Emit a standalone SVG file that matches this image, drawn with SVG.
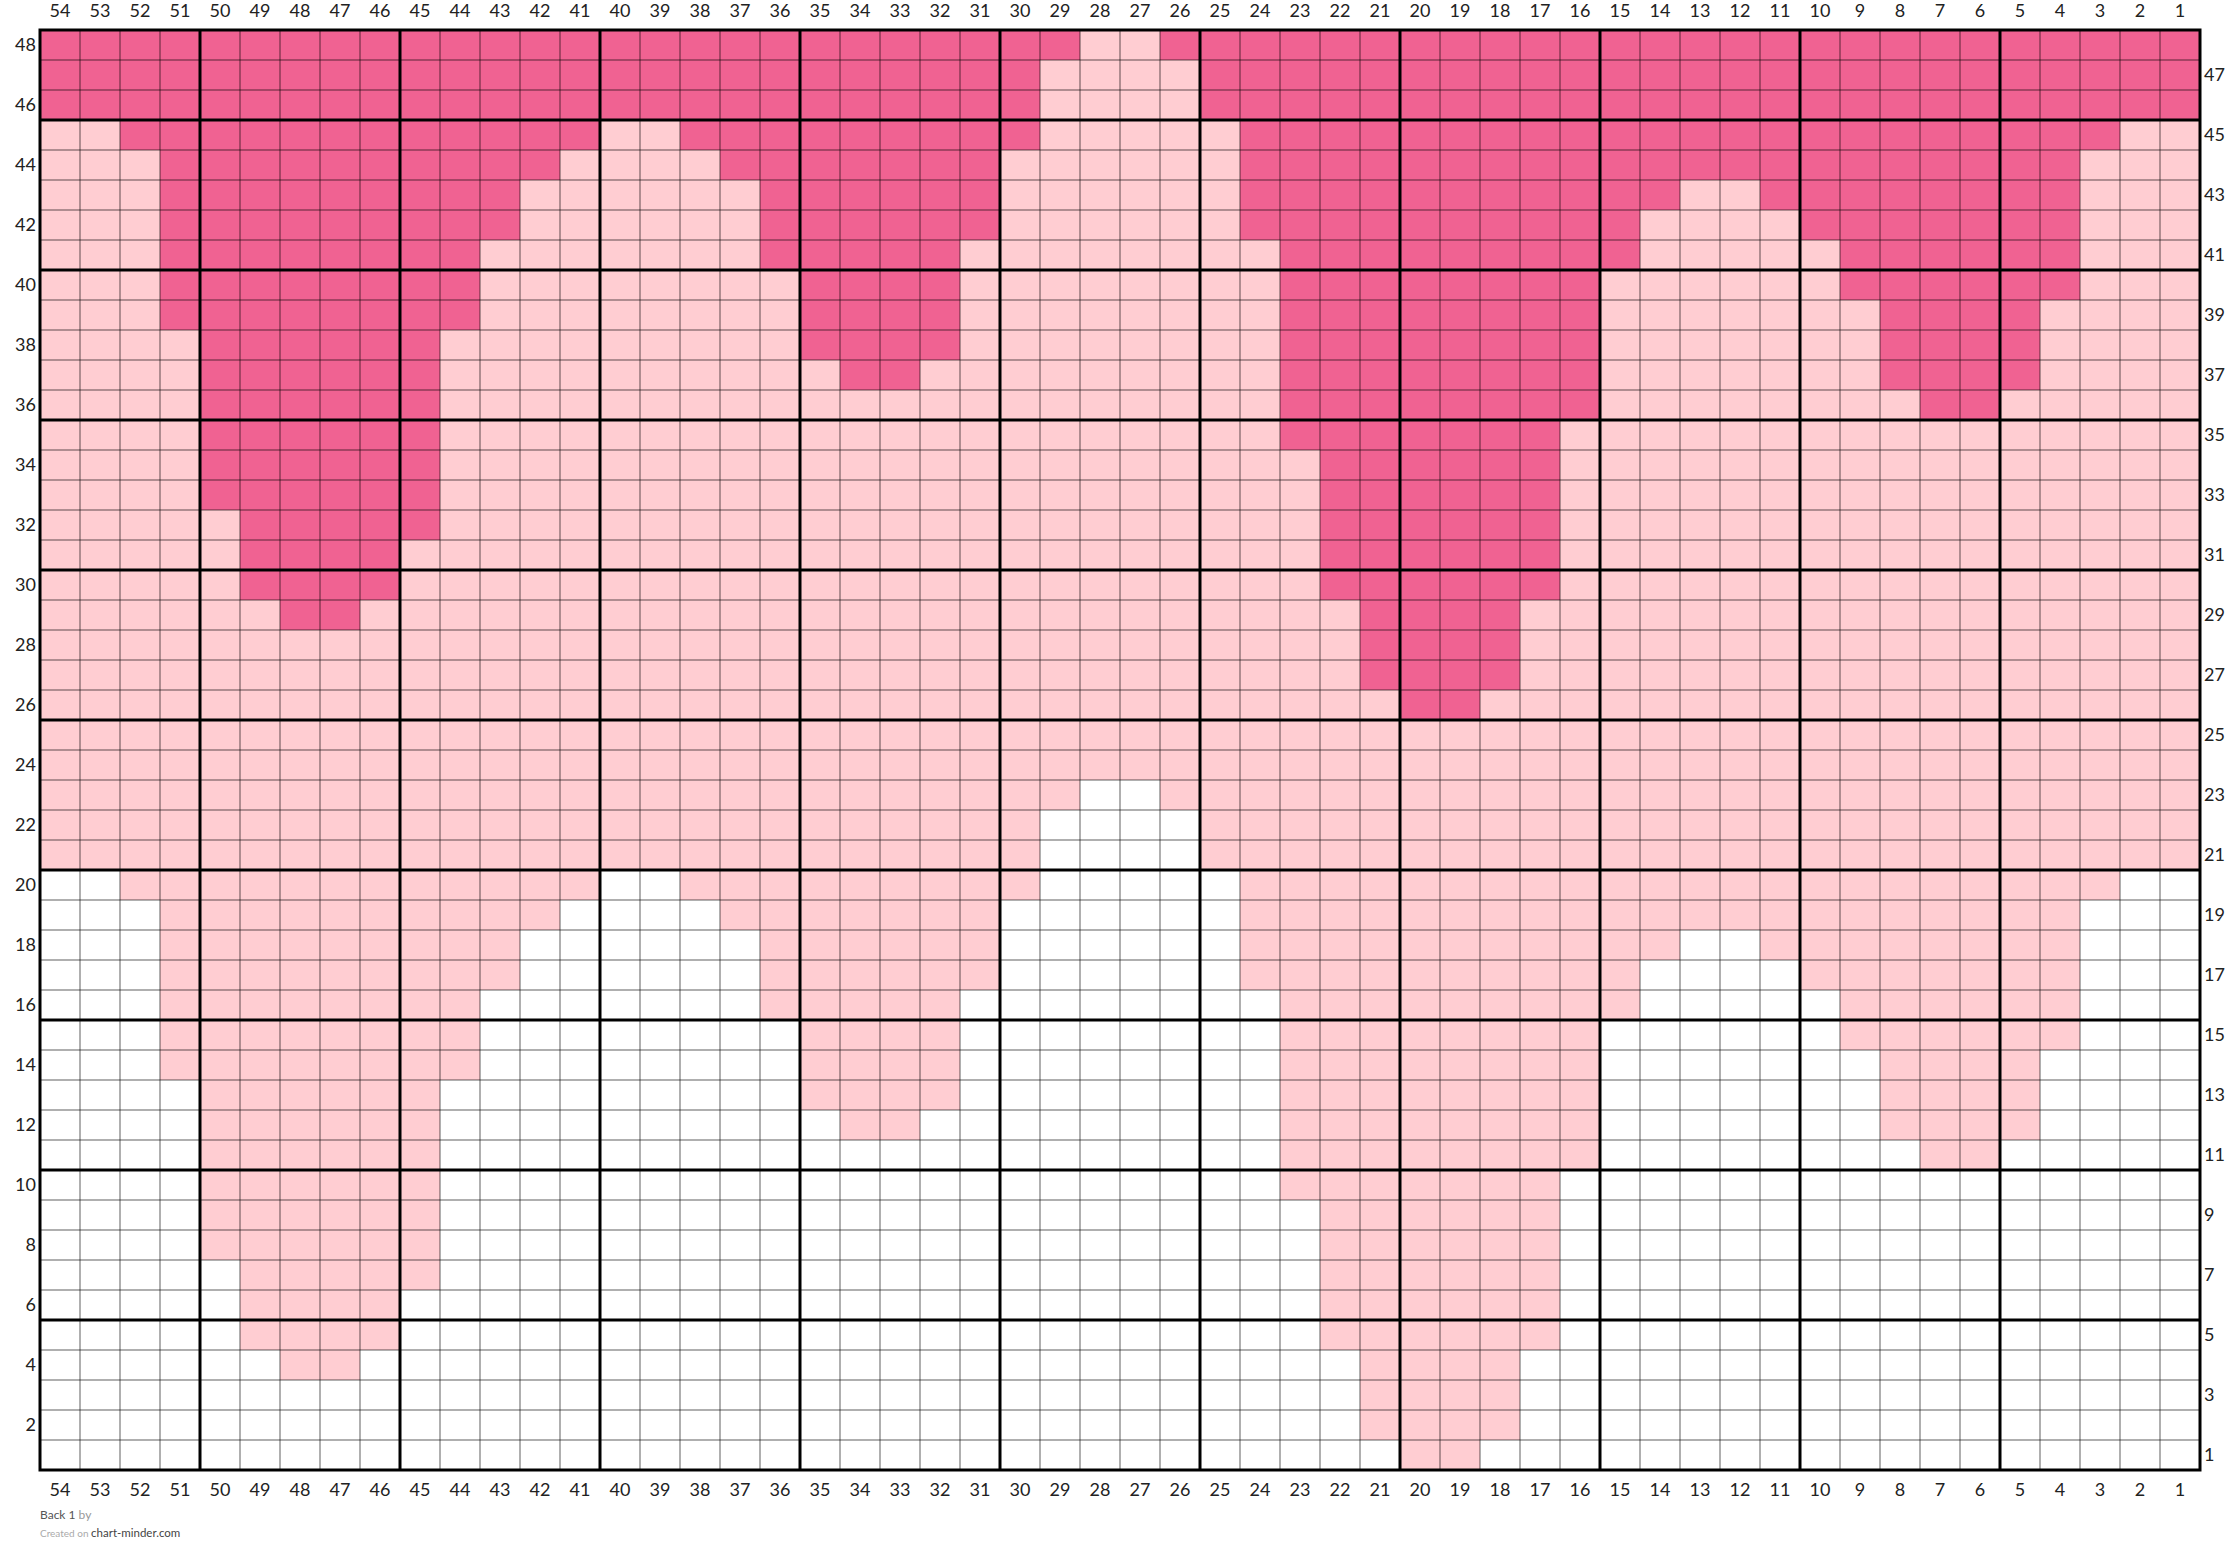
<svg xmlns="http://www.w3.org/2000/svg" width="2240" height="1563" viewBox="0 0 2240 1563">
<style>
.d{fill:#F06292}
.l{fill:#FFCDD2}
.thin{fill:none;stroke:#000;stroke-opacity:0.42;stroke-width:1.5}
.thick{fill:none;stroke:#000;stroke-width:3}
.lab{font-family:Lato,"Liberation Sans",sans-serif;font-size:18px;fill:#222}
.c{text-anchor:middle}
.e{text-anchor:end}
</style>
<rect width="2240" height="1563" fill="#fff"/>
<g id="cells">
<rect class="d" x="40" y="30" width="40" height="90"/><rect class="l" x="40" y="120" width="40" height="750"/>
<rect class="d" x="80" y="30" width="40" height="90"/><rect class="l" x="80" y="120" width="40" height="750"/>
<rect class="d" x="120" y="30" width="40" height="120"/><rect class="l" x="120" y="150" width="40" height="750"/>
<rect class="d" x="160" y="30" width="40" height="300"/><rect class="l" x="160" y="330" width="40" height="750"/>
<rect class="d" x="200" y="30" width="40" height="480"/><rect class="l" x="200" y="510" width="40" height="750"/>
<rect class="d" x="240" y="30" width="40" height="570"/><rect class="l" x="240" y="600" width="40" height="750"/>
<rect class="d" x="280" y="30" width="40" height="600"/><rect class="l" x="280" y="630" width="40" height="750"/>
<rect class="d" x="320" y="30" width="40" height="600"/><rect class="l" x="320" y="630" width="40" height="750"/>
<rect class="d" x="360" y="30" width="40" height="570"/><rect class="l" x="360" y="600" width="40" height="750"/>
<rect class="d" x="400" y="30" width="40" height="510"/><rect class="l" x="400" y="540" width="40" height="750"/>
<rect class="d" x="440" y="30" width="40" height="300"/><rect class="l" x="440" y="330" width="40" height="750"/>
<rect class="d" x="480" y="30" width="40" height="210"/><rect class="l" x="480" y="240" width="40" height="750"/>
<rect class="d" x="520" y="30" width="40" height="150"/><rect class="l" x="520" y="180" width="40" height="750"/>
<rect class="d" x="560" y="30" width="40" height="120"/><rect class="l" x="560" y="150" width="40" height="750"/>
<rect class="d" x="600" y="30" width="40" height="90"/><rect class="l" x="600" y="120" width="40" height="750"/>
<rect class="d" x="640" y="30" width="40" height="90"/><rect class="l" x="640" y="120" width="40" height="750"/>
<rect class="d" x="680" y="30" width="40" height="120"/><rect class="l" x="680" y="150" width="40" height="750"/>
<rect class="d" x="720" y="30" width="40" height="150"/><rect class="l" x="720" y="180" width="40" height="750"/>
<rect class="d" x="760" y="30" width="40" height="240"/><rect class="l" x="760" y="270" width="40" height="750"/>
<rect class="d" x="800" y="30" width="40" height="330"/><rect class="l" x="800" y="360" width="40" height="750"/>
<rect class="d" x="840" y="30" width="40" height="360"/><rect class="l" x="840" y="390" width="40" height="750"/>
<rect class="d" x="880" y="30" width="40" height="360"/><rect class="l" x="880" y="390" width="40" height="750"/>
<rect class="d" x="920" y="30" width="40" height="330"/><rect class="l" x="920" y="360" width="40" height="750"/>
<rect class="d" x="960" y="30" width="40" height="210"/><rect class="l" x="960" y="240" width="40" height="750"/>
<rect class="d" x="1000" y="30" width="40" height="120"/><rect class="l" x="1000" y="150" width="40" height="750"/>
<rect class="d" x="1040" y="30" width="40" height="30"/><rect class="l" x="1040" y="60" width="40" height="750"/>
<rect class="l" x="1080" y="30" width="40" height="750"/>
<rect class="l" x="1120" y="30" width="40" height="750"/>
<rect class="d" x="1160" y="30" width="40" height="30"/><rect class="l" x="1160" y="60" width="40" height="750"/>
<rect class="d" x="1200" y="30" width="40" height="90"/><rect class="l" x="1200" y="120" width="40" height="750"/>
<rect class="d" x="1240" y="30" width="40" height="210"/><rect class="l" x="1240" y="240" width="40" height="750"/>
<rect class="d" x="1280" y="30" width="40" height="420"/><rect class="l" x="1280" y="450" width="40" height="750"/>
<rect class="d" x="1320" y="30" width="40" height="570"/><rect class="l" x="1320" y="600" width="40" height="750"/>
<rect class="d" x="1360" y="30" width="40" height="660"/><rect class="l" x="1360" y="690" width="40" height="750"/>
<rect class="d" x="1400" y="30" width="40" height="690"/><rect class="l" x="1400" y="720" width="40" height="750"/>
<rect class="d" x="1440" y="30" width="40" height="690"/><rect class="l" x="1440" y="720" width="40" height="750"/>
<rect class="d" x="1480" y="30" width="40" height="660"/><rect class="l" x="1480" y="690" width="40" height="750"/>
<rect class="d" x="1520" y="30" width="40" height="570"/><rect class="l" x="1520" y="600" width="40" height="750"/>
<rect class="d" x="1560" y="30" width="40" height="390"/><rect class="l" x="1560" y="420" width="40" height="750"/>
<rect class="d" x="1600" y="30" width="40" height="240"/><rect class="l" x="1600" y="270" width="40" height="750"/>
<rect class="d" x="1640" y="30" width="40" height="180"/><rect class="l" x="1640" y="210" width="40" height="750"/>
<rect class="d" x="1680" y="30" width="40" height="150"/><rect class="l" x="1680" y="180" width="40" height="750"/>
<rect class="d" x="1720" y="30" width="40" height="150"/><rect class="l" x="1720" y="180" width="40" height="750"/>
<rect class="d" x="1760" y="30" width="40" height="180"/><rect class="l" x="1760" y="210" width="40" height="750"/>
<rect class="d" x="1800" y="30" width="40" height="210"/><rect class="l" x="1800" y="240" width="40" height="750"/>
<rect class="d" x="1840" y="30" width="40" height="270"/><rect class="l" x="1840" y="300" width="40" height="750"/>
<rect class="d" x="1880" y="30" width="40" height="360"/><rect class="l" x="1880" y="390" width="40" height="750"/>
<rect class="d" x="1920" y="30" width="40" height="390"/><rect class="l" x="1920" y="420" width="40" height="750"/>
<rect class="d" x="1960" y="30" width="40" height="390"/><rect class="l" x="1960" y="420" width="40" height="750"/>
<rect class="d" x="2000" y="30" width="40" height="360"/><rect class="l" x="2000" y="390" width="40" height="750"/>
<rect class="d" x="2040" y="30" width="40" height="270"/><rect class="l" x="2040" y="300" width="40" height="750"/>
<rect class="d" x="2080" y="30" width="40" height="120"/><rect class="l" x="2080" y="150" width="40" height="750"/>
<rect class="d" x="2120" y="30" width="40" height="90"/><rect class="l" x="2120" y="120" width="40" height="750"/>
<rect class="d" x="2160" y="30" width="40" height="90"/><rect class="l" x="2160" y="120" width="40" height="750"/>
</g>
<g id="grid">
<path class="thin" d="M80 30V1470M120 30V1470M160 30V1470M200 30V1470M240 30V1470M280 30V1470M320 30V1470M360 30V1470M400 30V1470M440 30V1470M480 30V1470M520 30V1470M560 30V1470M600 30V1470M640 30V1470M680 30V1470M720 30V1470M760 30V1470M800 30V1470M840 30V1470M880 30V1470M920 30V1470M960 30V1470M1000 30V1470M1040 30V1470M1080 30V1470M1120 30V1470M1160 30V1470M1200 30V1470M1240 30V1470M1280 30V1470M1320 30V1470M1360 30V1470M1400 30V1470M1440 30V1470M1480 30V1470M1520 30V1470M1560 30V1470M1600 30V1470M1640 30V1470M1680 30V1470M1720 30V1470M1760 30V1470M1800 30V1470M1840 30V1470M1880 30V1470M1920 30V1470M1960 30V1470M2000 30V1470M2040 30V1470M2080 30V1470M2120 30V1470M2160 30V1470"/>
<path class="thin" d="M40 60H2200M40 90H2200M40 120H2200M40 150H2200M40 180H2200M40 210H2200M40 240H2200M40 270H2200M40 300H2200M40 330H2200M40 360H2200M40 390H2200M40 420H2200M40 450H2200M40 480H2200M40 510H2200M40 540H2200M40 570H2200M40 600H2200M40 630H2200M40 660H2200M40 690H2200M40 720H2200M40 750H2200M40 780H2200M40 810H2200M40 840H2200M40 870H2200M40 900H2200M40 930H2200M40 960H2200M40 990H2200M40 1020H2200M40 1050H2200M40 1080H2200M40 1110H2200M40 1140H2200M40 1170H2200M40 1200H2200M40 1230H2200M40 1260H2200M40 1290H2200M40 1320H2200M40 1350H2200M40 1380H2200M40 1410H2200M40 1440H2200"/>
<path class="thick" d="M200 30V1470M400 30V1470M600 30V1470M800 30V1470M1000 30V1470M1200 30V1470M1400 30V1470M1600 30V1470M1800 30V1470M2000 30V1470M40 120H2200M40 270H2200M40 420H2200M40 570H2200M40 720H2200M40 870H2200M40 1020H2200M40 1170H2200M40 1320H2200"/>
<rect class="thick" x="40" y="30" width="2160" height="1440"/>
</g>
<g id="col-labels-top" class="lab c">
<text x="60" y="17">54</text><text x="100" y="17">53</text><text x="140" y="17">52</text><text x="180" y="17">51</text><text x="220" y="17">50</text><text x="260" y="17">49</text><text x="300" y="17">48</text><text x="340" y="17">47</text><text x="380" y="17">46</text><text x="420" y="17">45</text><text x="460" y="17">44</text><text x="500" y="17">43</text><text x="540" y="17">42</text><text x="580" y="17">41</text><text x="620" y="17">40</text><text x="660" y="17">39</text><text x="700" y="17">38</text><text x="740" y="17">37</text><text x="780" y="17">36</text><text x="820" y="17">35</text><text x="860" y="17">34</text><text x="900" y="17">33</text><text x="940" y="17">32</text><text x="980" y="17">31</text><text x="1020" y="17">30</text><text x="1060" y="17">29</text><text x="1100" y="17">28</text><text x="1140" y="17">27</text><text x="1180" y="17">26</text><text x="1220" y="17">25</text><text x="1260" y="17">24</text><text x="1300" y="17">23</text><text x="1340" y="17">22</text><text x="1380" y="17">21</text><text x="1420" y="17">20</text><text x="1460" y="17">19</text><text x="1500" y="17">18</text><text x="1540" y="17">17</text><text x="1580" y="17">16</text><text x="1620" y="17">15</text><text x="1660" y="17">14</text><text x="1700" y="17">13</text><text x="1740" y="17">12</text><text x="1780" y="17">11</text><text x="1820" y="17">10</text><text x="1860" y="17">9</text><text x="1900" y="17">8</text><text x="1940" y="17">7</text><text x="1980" y="17">6</text><text x="2020" y="17">5</text><text x="2060" y="17">4</text><text x="2100" y="17">3</text><text x="2140" y="17">2</text><text x="2180" y="17">1</text>
</g>
<g id="col-labels-bottom" class="lab c">
<text x="60" y="1496">54</text><text x="100" y="1496">53</text><text x="140" y="1496">52</text><text x="180" y="1496">51</text><text x="220" y="1496">50</text><text x="260" y="1496">49</text><text x="300" y="1496">48</text><text x="340" y="1496">47</text><text x="380" y="1496">46</text><text x="420" y="1496">45</text><text x="460" y="1496">44</text><text x="500" y="1496">43</text><text x="540" y="1496">42</text><text x="580" y="1496">41</text><text x="620" y="1496">40</text><text x="660" y="1496">39</text><text x="700" y="1496">38</text><text x="740" y="1496">37</text><text x="780" y="1496">36</text><text x="820" y="1496">35</text><text x="860" y="1496">34</text><text x="900" y="1496">33</text><text x="940" y="1496">32</text><text x="980" y="1496">31</text><text x="1020" y="1496">30</text><text x="1060" y="1496">29</text><text x="1100" y="1496">28</text><text x="1140" y="1496">27</text><text x="1180" y="1496">26</text><text x="1220" y="1496">25</text><text x="1260" y="1496">24</text><text x="1300" y="1496">23</text><text x="1340" y="1496">22</text><text x="1380" y="1496">21</text><text x="1420" y="1496">20</text><text x="1460" y="1496">19</text><text x="1500" y="1496">18</text><text x="1540" y="1496">17</text><text x="1580" y="1496">16</text><text x="1620" y="1496">15</text><text x="1660" y="1496">14</text><text x="1700" y="1496">13</text><text x="1740" y="1496">12</text><text x="1780" y="1496">11</text><text x="1820" y="1496">10</text><text x="1860" y="1496">9</text><text x="1900" y="1496">8</text><text x="1940" y="1496">7</text><text x="1980" y="1496">6</text><text x="2020" y="1496">5</text><text x="2060" y="1496">4</text><text x="2100" y="1496">3</text><text x="2140" y="1496">2</text><text x="2180" y="1496">1</text>
</g>
<g id="row-labels-left" class="lab e">
<text x="36" y="51">48</text><text x="36" y="111">46</text><text x="36" y="171">44</text><text x="36" y="231">42</text><text x="36" y="291">40</text><text x="36" y="351">38</text><text x="36" y="411">36</text><text x="36" y="471">34</text><text x="36" y="531">32</text><text x="36" y="591">30</text><text x="36" y="651">28</text><text x="36" y="711">26</text><text x="36" y="771">24</text><text x="36" y="831">22</text><text x="36" y="891">20</text><text x="36" y="951">18</text><text x="36" y="1011">16</text><text x="36" y="1071">14</text><text x="36" y="1131">12</text><text x="36" y="1191">10</text><text x="36" y="1251">8</text><text x="36" y="1311">6</text><text x="36" y="1371">4</text><text x="36" y="1431">2</text>
</g>
<g id="row-labels-right" class="lab">
<text x="2204" y="81">47</text><text x="2204" y="141">45</text><text x="2204" y="201">43</text><text x="2204" y="261">41</text><text x="2204" y="321">39</text><text x="2204" y="381">37</text><text x="2204" y="441">35</text><text x="2204" y="501">33</text><text x="2204" y="561">31</text><text x="2204" y="621">29</text><text x="2204" y="681">27</text><text x="2204" y="741">25</text><text x="2204" y="801">23</text><text x="2204" y="861">21</text><text x="2204" y="921">19</text><text x="2204" y="981">17</text><text x="2204" y="1041">15</text><text x="2204" y="1101">13</text><text x="2204" y="1161">11</text><text x="2204" y="1221">9</text><text x="2204" y="1281">7</text><text x="2204" y="1341">5</text><text x="2204" y="1401">3</text><text x="2204" y="1461">1</text>
</g>
<g id="footer" font-family="Lato, 'Liberation Sans', sans-serif">
<text x="40" y="1519" font-size="12" fill="#555">Back 1 <tspan fill="#999">by</tspan></text>
<text x="40" y="1537" font-size="10" fill="#aaa">Created on <tspan font-size="11.5" fill="#444">chart-minder.com</tspan></text>
</g>
</svg>
